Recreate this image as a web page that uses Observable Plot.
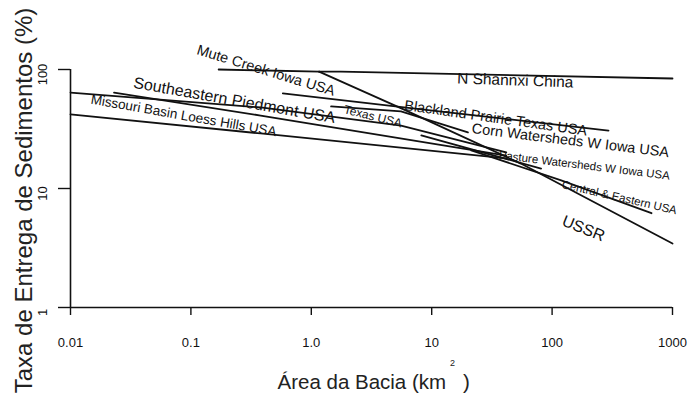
<!DOCTYPE html>
<html><head><meta charset="utf-8">
<script src="https://cdn.jsdelivr.net/npm/d3@7"></script>
<script src="https://cdn.jsdelivr.net/npm/@observablehq/plot@0.6"></script>
<style>body{margin:0;background:#fff;font-family:"Liberation Sans",Arial,sans-serif}</style>
</head><body><div id="chart"></div>
<script>
// Series (area km², delivery ratio %)
const seriesNames = ["Mute Creek Iowa USA","N Shannxi China","USSR","Blackland Prairie Texas USA","Corn Watersheds W Iowa USA","Southeastern Piedmont USA","Texas USA","Missouri Basin Loess Hills USA","Pasture Watersheds W Iowa USA","Central & Eastern USA"];
const muteX = [0.17, 1.16], muteY = [100, 96];
const shannxiX = [1.16, 1.76, 1000], shannxiY = [96, 96, 84];
const ussrX = [1.16, 5.9, 55, 1000], ussrY = [96, 46, 16.2, 3.45];
const blacklandX = [0.58, 5.9, 294], blacklandY = [63, 48, 30.7];
const cornX = [1.46, 5.56, 20], cornY = [48.9, 44.4, 29.6];
const piedmontX = [0.023, 0.38, 41.6], piedmontY = [64, 41, 18.9];
const texasX = [0.01, 0.38, 5.56, 41.6], texasY = [64, 48, 33.8, 20.1];
const missouriX = [0.01, 0.38, 41.6], missouriY = [42, 29, 17.9];
const pastureX = [8.2, 81], pastureY = [27.9, 14.7];
const centralX = [21.3, 119, 669], centralY = [20.9, 11.7, 6.2];
const seriesX = [muteX, shannxiX, ussrX, blacklandX, cornX, piedmontX, texasX, missouriX, pastureX, centralX];
const seriesY = [muteY, shannxiY, ussrY, blacklandY, cornY, piedmontY, texasY, missouriY, pastureY, centralY];

// Series labels (anchored in data coordinates)
const labelText = ["Mute Creek Iowa USA","N Shannxi China","Southeastern Piedmont USA","Texas USA","Missouri Basin Loess Hills USA","Blackland Prairie Texas USA","Corn Watersheds W Iowa USA","Pasture Watersheds W Iowa USA","Central & Eastern USA","USSR"];
const labelX = [0.42, 49.4, 0.23, 3.25, 0.087, 34, 142, 185, 362, 182];
const labelY = [98, 80.9, 55, 40.3, 41, 39, 25.3, 15.6, 8.4, 4.61];
const labelAngle = [17, 2, 10, 14, 10, 8, 7, 7, 13, 22];
const labelSize = [14.5, 15.5, 16, 12, 13.5, 14.5, 14.5, 11.5, 11.5, 16];

// Ticks
const xTicks = [0.01, 0.1, 1, 10, 100, 1000];
const xTickLabels = ["0.01", "0.1", "1.0", "10", "100", "1000"];
const yTicks = [1, 10, 100];
const yTickLabels = ["1", "10", "100"];

const lineData = seriesNames.flatMap((name, i) => seriesX[i].map((x, j) => ({name, x, y: seriesY[i][j]})));
const labels = labelText.map((t, i) => ({t, x: labelX[i], y: labelY[i], a: labelAngle[i], s: labelSize[i]}));
const ink = "#111";

const marks = [
  Plot.ruleX([0.01], {y1: 1, y2: 100, stroke: ink, strokeWidth: 1.6}),
  Plot.ruleY([1], {x1: 0.01, x2: 1000, stroke: ink, strokeWidth: 1.6}),
  Plot.axisX({ticks: xTicks, tickSize: 8, tickFormat: () => "", label: null, stroke: ink, strokeWidth: 1.4}),
  Plot.axisY({ticks: yTicks, tickSize: 12, tickFormat: () => "", label: null, stroke: ink, strokeWidth: 1.4}),
  Plot.text(xTicks, {x: d => d, y: () => 1, text: (d, i) => xTickLabels[i], dy: 35, fontSize: 13, fill: ink}),
  Plot.text(yTicks, {x: () => 0.01, y: d => d, text: (d, i) => yTickLabels[i], rotate: -90, dx: -28, dy: 5, fontSize: 13, fill: ink}),
  Plot.line(lineData, {x: "x", y: "y", z: "name", stroke: ink, strokeWidth: 1.8}),
];
labels.forEach(l => marks.push(Plot.text([l], {x: "x", y: "y", text: "t", rotate: l.a, fontSize: l.s, fill: ink, textAnchor: "middle"})));
marks.push(
  Plot.text(["Taxa de Entrega de Sedimentos (%)"], {frameAnchor: "left", textAnchor: "middle", rotate: -90, dx: -46, dy: 12, fontSize: 24, fill: "#222"}),
  Plot.text(["Área da Bacia (km"], {frameAnchor: "bottom", textAnchor: "start", dx: -94, dy: 81, fontSize: 20.5, fill: "#222"}),
  Plot.text([")"], {frameAnchor: "bottom", textAnchor: "middle", dx: 95, dy: 81, fontSize: 20.5, fill: "#222"}),
  Plot.text(["2"], {frameAnchor: "bottom", textAnchor: "middle", dx: 81, dy: 58, fontSize: 9, fill: "#222"})
);

const chart = Plot.plot({
  width: 692, height: 400,
  marginLeft: 70, marginRight: 20, marginTop: 69, marginBottom: 93,
  style: {fontFamily: "Liberation Sans, Arial, sans-serif", background: "#fff"},
  x: {type: "log", domain: [0.01, 1000]},
  y: {type: "log", domain: [1, 100]},
  marks
});
document.getElementById("chart").appendChild(chart);
</script></body></html>
